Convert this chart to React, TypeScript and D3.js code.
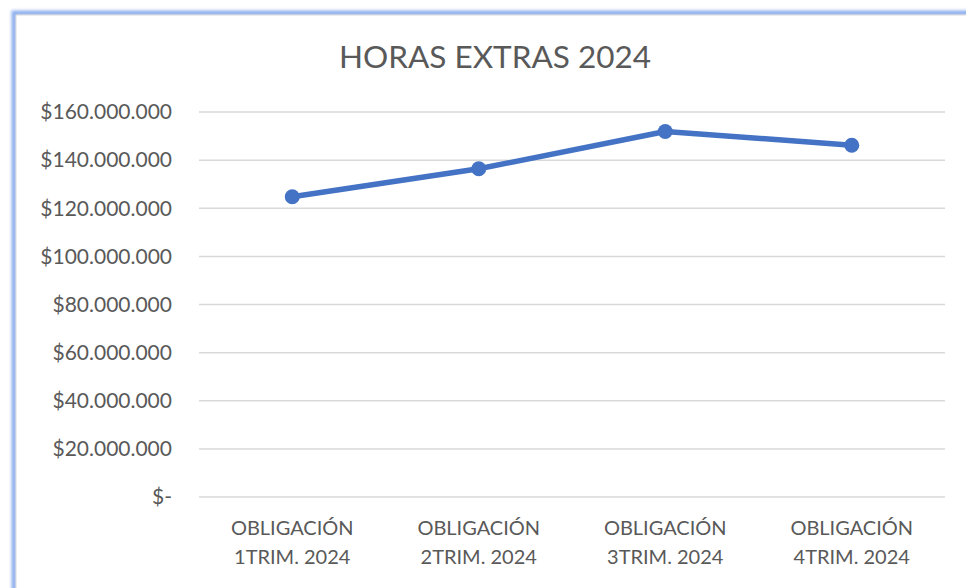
import React from "react";
import * as d3 from "d3";

const categories: string[][] = [
  ["OBLIGACIÓN", "1TRIM. 2024"],
  ["OBLIGACIÓN", "2TRIM. 2024"],
  ["OBLIGACIÓN", "3TRIM. 2024"],
  ["OBLIGACIÓN", "4TRIM. 2024"],
];
const values: number[] = [124800000, 136400000, 151900000, 146200000];
const yTicks: number[] = [0, 20000000, 40000000, 60000000, 80000000, 100000000, 120000000, 140000000, 160000000];
const title = "HORAS EXTRAS 2024";

const W = 966;
const H = 588;
const FONT = "Lato, 'Open Sans', sans-serif";

function fmt(v: number): string {
  if (v === 0) return "$-";
  const s = d3.format(",")(v).replace(/,/g, ".");
  return "$" + s;
}

export default function App() {
  const left = 199;
  const right = 945;
  const top = 112;
  const bottom = 497;
  const x = d3
    .scaleBand<number>()
    .domain(categories.map((_, i) => i))
    .range([left, right]);
  const y = d3.scaleLinear().domain([0, 160000000]).range([bottom, top]);
  const line = d3
    .line<number>()
    .x((_, i) => (x(i) as number) + x.bandwidth() / 2)
    .y((d) => y(d));

  return (
    <svg
      width={W}
      height={H}
      style={{ position: "absolute", left: 0, top: 0, display: "block", background: "#fff" }}
    >
      <defs>
        <filter id="glow" x="-5%" y="-5%" width="110%" height="110%">
          <feGaussianBlur stdDeviation="1.8" />
        </filter>
      </defs>
      <rect x={0} y={0} width={W} height={H} fill="#fff" />
      <rect x={14} y={13} width={W + 20} height={H + 20} fill="none" stroke="#8fb0ee" strokeWidth={5} filter="url(#glow)" />
      <rect x={16} y={15} width={W + 20} height={H + 20} fill="#fff" stroke="#d9d9d9" strokeWidth={1} />
      <text x={495} y={68} textAnchor="middle" fontFamily={FONT} fontSize={31.5} fill="#595959">
        {title}
      </text>
      {yTicks.map((t) => (
        <g key={t}>
          <line x1={left} x2={right} y1={y(t)} y2={y(t)} stroke="#d9d9d9" strokeWidth={1.5} />
          <text x={172} y={y(t)} dy="0.35em" textAnchor="end" fontFamily={FONT} fontSize={21} fill="#595959">
            {fmt(t)}
          </text>
        </g>
      ))}
      {categories.map((c, i) => {
        const cx = (x(i) as number) + x.bandwidth() / 2;
        return (
          <text key={i} x={cx} textAnchor="middle" fontFamily={FONT} fontSize={20} fill="#595959">
            <tspan x={cx} y={535}>{c[0]}</tspan>
            <tspan x={cx} y={564}>{c[1]}</tspan>
          </text>
        );
      })}
      <path d={line(values) || ""} fill="none" stroke="#4472C4" strokeWidth={5.5} strokeLinejoin="round" strokeLinecap="round" />
      {values.map((v, i) => (
        <circle key={i} cx={(x(i) as number) + x.bandwidth() / 2} cy={y(v)} r={7.5} fill="#4472C4" />
      ))}
    </svg>
  );
}
